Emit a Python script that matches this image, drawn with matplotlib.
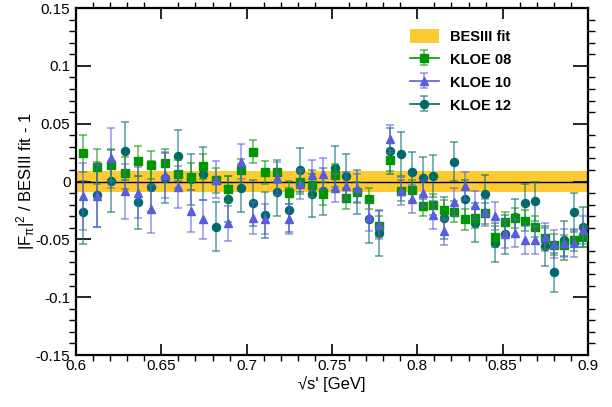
import matplotlib
matplotlib.use('Agg')
import matplotlib.pyplot as plt
from matplotlib.ticker import MultipleLocator, FuncFormatter
from matplotlib.patches import Patch
from matplotlib.lines import Line2D
from matplotlib.legend_handler import HandlerTuple

plt.rcParams['font.family'] = ['Liberation Sans', 'DejaVu Sans']
plt.rcParams['mathtext.fontset'] = 'custom'
plt.rcParams['mathtext.rm'] = 'Liberation Sans'
plt.rcParams['mathtext.it'] = 'Liberation Sans'
plt.rcParams['mathtext.bf'] = 'Liberation Sans:bold'
plt.rcParams['axes.unicode_minus'] = False

# sqrt(s') bin centres [GeV]
sqrt_s = [0.6042, 0.6124, 0.6205, 0.6285, 0.6364, 0.6442, 0.6519, 0.6596, 0.6671,
          0.6745, 0.6819, 0.6892, 0.6964, 0.7036, 0.7106, 0.7176, 0.7246, 0.7314,
          0.7382, 0.7450, 0.7517, 0.7583, 0.7649, 0.7714, 0.7778, 0.7842, 0.7906,
          0.7969, 0.8031, 0.8093, 0.8155, 0.8216, 0.8277, 0.8337, 0.8396, 0.8456,
          0.8515, 0.8573, 0.8631, 0.8689, 0.8746, 0.8803, 0.8860, 0.8916, 0.8972]

# relative deviation from the BESIII fit
kloe08 = [0.0245, 0.0127, 0.0141, 0.0075, 0.0176, 0.0141, 0.0158, 0.0066, 0.0043,
          0.0132, 0.0010, -0.0066, 0.0098, 0.0256, 0.0078, 0.0084, -0.0098, -0.0006,
          -0.0032, -0.0104, 0.0052, -0.0144, -0.0095, -0.0150, -0.0386, 0.0184, -0.0078,
          -0.0075, -0.0209, -0.0200, -0.0247, -0.0262, -0.0326, -0.0312, -0.0275, -0.0479,
          -0.0352, -0.0316, -0.0340, -0.0390, -0.0490, -0.0548, -0.0550, -0.0508, -0.0478]
kloe08_err = [0.016, 0.015, 0.014, 0.014, 0.013, 0.012, 0.012, 0.012, 0.012,
              0.011, 0.011, 0.011, 0.010, 0.010, 0.010, 0.010, 0.010, 0.010,
              0.010, 0.010, 0.010, 0.009, 0.009, 0.009, 0.009, 0.009, 0.009,
              0.009, 0.009, 0.009, 0.009, 0.009, 0.009, 0.009, 0.009, 0.009,
              0.009, 0.009, 0.009, 0.009, 0.009, 0.009, 0.009, 0.009, 0.009]

kloe10 = [-0.0127, -0.0127, 0.0205, -0.0086, -0.0098, -0.0236, 0.0055, -0.0046, -0.0253,
          -0.0328, 0.0015, -0.0363, 0.0170, -0.0315, -0.0322, 0.0026, -0.0328, -0.0023,
          0.0052, 0.0069, -0.0055, -0.0037, -0.0058, -0.0310, -0.0377, 0.0369, -0.0084,
          -0.0153, -0.0103, -0.0290, -0.0432, -0.0178, -0.0040, -0.0205, -0.0267, -0.0297,
          -0.0457, -0.0445, -0.0505, -0.0505, -0.0480, -0.0542, -0.0530, -0.0530, -0.0420]
kloe10_err = [0.029, 0.027, 0.026, 0.024, 0.022, 0.021, 0.020, 0.018, 0.018,
              0.017, 0.016, 0.015, 0.015, 0.014, 0.013, 0.014, 0.013, 0.013,
              0.013, 0.013, 0.012, 0.012, 0.012, 0.012, 0.012, 0.012, 0.012,
              0.012, 0.012, 0.012, 0.012, 0.012, 0.012, 0.012, 0.012, 0.012,
              0.012, 0.012, 0.012, 0.012, 0.012, 0.012, 0.012, 0.012, 0.012]

kloe12 = [-0.0268, -0.0115, 0.0003, 0.0262, -0.0179, -0.0046, 0.0030, 0.0222, 0.0020,
          0.0069, -0.0390, -0.0153, -0.0058, -0.0184, -0.0288, -0.0095, -0.0248, 0.0098,
          -0.0104, -0.0086, 0.0118, 0.0049, -0.0092, -0.0328, -0.0443, 0.0265, 0.0236,
          0.0078, 0.0033, 0.0047, -0.0317, 0.0172, -0.0154, -0.0357, -0.0110, -0.0528,
          -0.0457, -0.0310, -0.0182, -0.0171, -0.0558, -0.0786, -0.0510, -0.0267, -0.0392]
kloe12_err = [0.027, 0.028, 0.027, 0.025, 0.023, 0.022, 0.022, 0.022, 0.022,
              0.023, 0.021, 0.020, 0.021, 0.020, 0.020, 0.020, 0.019, 0.019,
              0.020, 0.020, 0.019, 0.019, 0.019, 0.020, 0.020, 0.020, 0.019,
              0.018, 0.018, 0.018, 0.018, 0.017, 0.017, 0.017, 0.017, 0.017,
              0.017, 0.016, 0.016, 0.017, 0.017, 0.017, 0.017, 0.017, 0.017]

fit_band = 0.009

c08, c10, c12 = '#009600', '#5b5be0', '#006a6a'

fig = plt.figure(figsize=(6.12, 4.07), dpi=100)
ax = fig.add_axes([76 / 612, 1 - 355 / 407, 512 / 612, 347 / 407])

ax.axhspan(-fit_band, fit_band, color='#fec931', lw=0, zorder=1)
ax.axhline(0, color='black', lw=1.0, zorder=2)

err_kw = dict(linestyle='none', elinewidth=1.2, capsize=3, capthick=1.2)
e12 = ax.errorbar(sqrt_s, kloe12, yerr=kloe12_err, fmt='o', ms=5.8, color=c12,
                  ecolor=(0.0, 0.42, 0.42, 0.6), zorder=3, **err_kw)
e08 = ax.errorbar(sqrt_s, kloe08, yerr=kloe08_err, fmt='s', ms=5.5, color=c08,
                  ecolor=(0.1, 0.6, 0.1, 0.65), zorder=4, **err_kw)
e10 = ax.errorbar(sqrt_s, kloe10, yerr=kloe10_err, fmt='^', ms=6, color=c10,
                  ecolor=(0.36, 0.36, 0.88, 0.6), zorder=5, **err_kw)

ax.set_xlim(0.6, 0.9)
ax.set_ylim(-0.15, 0.15)
ax.xaxis.set_major_locator(MultipleLocator(0.05))
ax.xaxis.set_minor_locator(MultipleLocator(0.01))
ax.yaxis.set_major_locator(MultipleLocator(0.05))
ax.yaxis.set_minor_locator(MultipleLocator(0.01))
fmt = FuncFormatter(lambda v, p: '%g' % round(v, 3))
ax.xaxis.set_major_formatter(fmt)
ax.yaxis.set_major_formatter(fmt)

ax.tick_params(direction='in', top=True, right=True, labelsize=11, width=1.2, colors='black')
ax.tick_params(axis='y', which='major', length=10.5, pad=4)
ax.tick_params(axis='y', which='minor', length=5.2, width=1.0, left=True, right=True)
ax.tick_params(axis='x', which='major', length=8, pad=3)
ax.tick_params(axis='x', which='minor', length=4, width=1.0, top=True, bottom=True)
for sp in ax.spines.values():
    sp.set_linewidth(1.6)

ax.set_xlabel("\u221as' [GeV]", fontsize=12, labelpad=2)
ax.set_ylabel(r"$|\mathrm{F}_{\pi}|^{2}$ / BESIII fit - 1", fontsize=12, labelpad=-1)

# legend entries: horizontal line overlaid on the errorbar symbol
handles = [Patch(facecolor='#fec931', edgecolor='none'),
           (Line2D([], [], color=c08, lw=1.2), e08),
           (Line2D([], [], color=c10, lw=1.2), e10),
           (Line2D([], [], color=c12, lw=1.2), e12)]
labels = ['BESIII fit', 'KLOE 08', 'KLOE 10', 'KLOE 12']
ax.legend(handles, labels, loc='upper left', bbox_to_anchor=(0.652, 0.94),
          frameon=False, prop={'weight': 'bold', 'size': 10.5}, numpoints=1,
          handlelength=2.0, handleheight=1.1, handletextpad=0.75, labelspacing=0.55,
          borderpad=0, borderaxespad=0,
          handler_map={tuple: HandlerTuple(ndivide=1)})

fig.savefig('out.png', dpi=100)
